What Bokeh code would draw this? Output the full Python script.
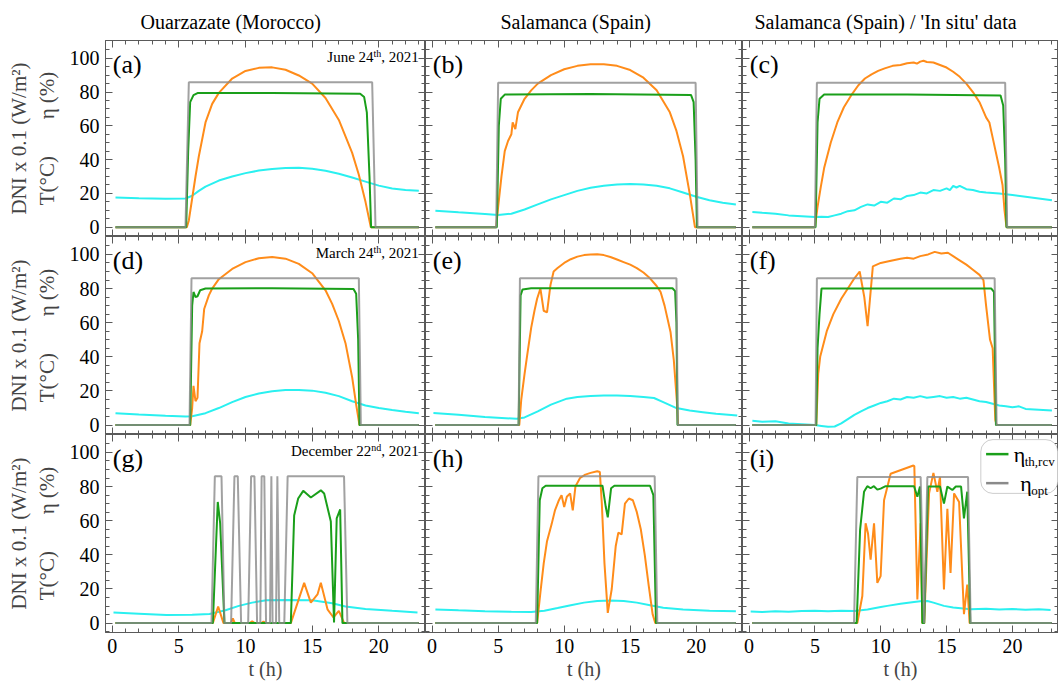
from bokeh.plotting import figure
from bokeh.layouts import column, row
from bokeh.models import LinearAxis, Range1d, Label, BoxAnnotation, FixedTicker, Title
from bokeh.embed import file_html
from bokeh.resources import INLINE

# ---------------- DATA ----------------
# (a) Ouarzazate, June 24th
a_t_dni = [0.25, 5.6, 5.75, 6.0, 6.25, 6.5, 7.0, 7.5, 8.0, 9.0, 10.0, 11.0, 12.0, 13.0, 14.0, 15.0, 16.0, 17.0, 18.0, 18.5, 19.0, 19.4, 23.0]
a_dni = [0, 0, 4, 17, 30, 42, 62, 73, 79.5, 88, 92.5, 94.3, 94.6, 93.2, 89.8, 85, 76.5, 63.5, 44, 31, 15, 0, 0]
a_t_temp = [0.25, 2.0, 4.0, 5.5, 6.0, 6.5, 7.0, 8.0, 9.0, 10.0, 11.0, 12.0, 13.0, 14.0, 15.0, 16.0, 17.0, 18.0, 19.0, 20.0, 21.0, 22.0, 23.0]
a_temp = [17.6, 17.1, 16.9, 17.0, 18.6, 21.5, 24.0, 27.6, 30.0, 32.0, 33.5, 34.5, 35.1, 35.2, 34.6, 33.4, 31.6, 29.4, 27.0, 24.6, 22.9, 22.0, 21.6]
a_t_th = [0.25, 5.55, 5.7, 5.85, 6.1, 6.4, 12.0, 18.6, 18.9, 19.1, 19.3, 19.42, 23.0]
a_th = [0, 0, 45, 74, 78.2, 79.4, 79.4, 79.0, 77.0, 68, 30, 0, 0]
a_t_opt = [0.25, 5.5, 5.75, 19.5, 19.75, 23.0]
a_opt = [0, 0, 85.8, 85.8, 0, 0]

# (b) Salamanca, June 24th (model)
b_t_dni = [0.25, 4.85, 5.0, 5.25, 5.5, 5.75, 6.0, 6.1, 6.3, 6.5, 7.0, 7.5, 8.0, 9.0, 10.0, 11.0, 12.0, 13.0, 14.0, 15.0, 16.0, 17.0, 18.0, 18.5, 19.0, 19.5, 19.9, 23.0]
b_dni = [0, 0, 12, 30, 45, 51, 55, 62, 58, 68, 76, 81, 85, 90, 93.5, 95.5, 96.5, 96.5, 95.5, 93, 88.5, 81, 68, 57, 42, 20, 0, 0]
b_t_temp = [0.25, 2.0, 4.0, 5.0, 6.0, 7.0, 8.0, 9.0, 10.0, 11.0, 12.0, 13.0, 14.0, 15.0, 16.0, 17.0, 18.0, 19.0, 20.0, 21.0, 22.0, 23.0]
b_temp = [9.8, 8.8, 7.8, 7.2, 8.0, 10.5, 13.5, 16.5, 19.0, 21.5, 23.3, 24.5, 25.3, 25.6, 25.3, 24.5, 23.0, 20.5, 18.0, 16.0, 14.5, 13.5]
b_t_th = [0.25, 4.9, 5.05, 5.2, 5.5, 12.0, 19.6, 19.8, 19.95, 20.05, 23.0]
b_th = [0, 0, 60, 76, 78.5, 78.8, 78.3, 74, 40, 0, 0]
b_t_opt = [0.25, 4.85, 5.0, 19.95, 20.1, 23.0]
b_opt = [0, 0, 85.5, 85.5, 0, 0]

# (c) Salamanca, June 24th (in situ)
c_t_dni = [0.25, 5.0, 5.2, 5.45, 5.7, 6.2, 6.7, 7.2, 7.75, 8.3, 8.8, 9.3, 9.8, 10.3, 10.9, 11.5, 12.0, 12.5, 12.75, 13.0, 13.25, 13.5, 14.0, 14.5, 15.0, 15.5, 16.0, 16.5, 17.0, 17.25, 17.5, 18.0, 18.25, 18.5, 19.0, 19.25, 19.4, 19.55, 23.0]
c_dni = [0, 0, 12, 24, 35, 50, 62, 71, 78, 84, 88, 90.5, 92.5, 94, 95.5, 96, 97, 97.5, 96.8, 98, 98.5, 97.8, 97.5, 96, 94.5, 92, 89, 85, 80, 77, 74, 65, 62, 53, 35, 25, 10, 0, 0]
c_t_temp = [0.25, 1.0, 2.0, 3.0, 4.0, 5.0, 5.5, 6.0, 6.5, 7.0, 7.5, 8.0, 8.5, 9.0, 9.5, 10.0, 10.5, 11.0, 11.5, 12.0, 12.5, 13.0, 13.5, 14.0, 14.5, 15.0, 15.25, 15.5, 15.75, 16.0, 16.5, 17.0, 17.5, 18.0, 19.0, 19.5, 20.0, 21.0, 22.0, 23.0]
c_temp = [9.0, 8.5, 8.0, 7.0, 6.5, 6.0, 6.2, 6.0, 7.0, 8.0, 9.5, 10.0, 12.0, 13.5, 12.8, 15.0, 14.5, 17.0, 16.5, 18.5, 19.0, 20.5, 20.0, 22.0, 21.5, 23.0, 22.0, 24.5, 23.5, 24.5, 22.5, 22.0, 21.0, 20.5, 20.0, 19.5, 19.0, 18.0, 17.0, 16.0]
c_t_th = [0.25, 5.05, 5.2, 5.35, 5.7, 12.0, 19.1, 19.3, 19.45, 19.55, 23.0]
c_th = [0, 0, 62, 76, 78.5, 78.5, 78.0, 72, 40, 0, 0]
c_t_opt = [0.25, 5.0, 5.15, 19.45, 19.6, 23.0]
c_opt = [0, 0, 85.5, 85.5, 0, 0]

# (d) Ouarzazate, March 24th
d_t_dni = [0.25, 5.85, 6.0, 6.1, 6.25, 6.4, 6.55, 6.75, 6.9, 7.25, 7.5, 8.0, 9.0, 10.0, 11.0, 12.0, 13.0, 14.0, 15.0, 16.0, 16.5, 17.0, 17.5, 18.0, 18.3, 18.55, 23.0]
d_dni = [0, 0, 10, 23, 14, 16, 48, 55, 68, 76, 80, 85.5, 91.5, 95.5, 97.8, 98.5, 97.5, 94.5, 89, 79, 71, 61, 48, 28, 12, 0, 0]
d_t_temp = [0.25, 2.0, 4.0, 5.5, 6.0, 7.0, 8.0, 9.0, 10.0, 11.0, 12.0, 13.0, 14.0, 15.0, 16.0, 17.0, 18.0, 19.0, 20.0, 21.0, 22.0, 23.0]
d_temp = [7.0, 6.2, 5.5, 5.0, 5.2, 7.0, 10.0, 13.5, 16.5, 18.5, 19.8, 20.5, 20.6, 20.2, 19.0, 17.0, 14.0, 11.5, 10.0, 8.8, 7.8, 7.0]
d_t_th = [0.25, 5.85, 6.0, 6.1, 6.25, 6.4, 6.6, 7.0, 12.0, 18.1, 18.3, 18.45, 18.55, 23.0]
d_th = [0, 0, 70, 78, 75, 75.5, 79, 80, 80.2, 79.8, 77, 50, 0, 0]
d_t_opt = [0.25, 5.8, 5.95, 18.5, 18.65, 23.0]
d_opt = [0, 0, 86, 86, 0, 0]

# (e) Salamanca, March 24th (model)
e_t_dni = [0.25, 6.6, 6.75, 7.0, 7.2, 7.5, 7.75, 7.95, 8.2, 8.45, 8.7, 8.96, 9.2, 9.5, 10.0, 10.5, 11.0, 11.5, 12.0, 12.5, 13.0, 13.5, 14.0, 14.5, 15.0, 15.5, 16.0, 16.5, 17.0, 17.3, 17.6, 18.05, 18.3, 18.55, 18.62, 23.0]
e_dni = [0, 0, 15, 30, 41, 57, 67, 74, 80, 67, 66, 82, 90, 92, 95, 97.2, 98.7, 99.6, 100, 100.1, 99.6, 98.5, 97, 95.5, 94, 92, 89.4, 86, 81.5, 78, 70, 54.6, 38, 12, 0, 0]
e_t_temp = [0.1, 2.0, 4.0, 6.4, 7.0, 8.0, 9.0, 10.2, 11.0, 12.0, 13.0, 14.0, 15.0, 16.0, 16.8, 17.5, 18.5, 19.5, 20.5, 21.5, 23.1]
e_temp = [7.1, 6.0, 4.8, 3.7, 4.5, 8.0, 12.0, 15.5, 16.5, 17.1, 17.4, 17.4, 17.0, 16.4, 15.9, 13.5, 10.0, 8.6, 7.6, 6.6, 5.6]
e_t_th = [0.25, 6.55, 6.7, 6.85, 7.5, 18.2, 18.4, 18.5, 18.58, 23.0]
e_th = [0, 0, 76, 79.5, 80.2, 80.2, 78.5, 60, 0, 0]
e_t_opt = [0.25, 6.55, 6.65, 18.5, 18.6, 23.0]
e_opt = [0, 0, 86, 86, 0, 0]

# (f) Salamanca, March 24th (in situ)
f_t_dni = [0.25, 5.1, 5.25, 5.4, 5.9, 6.4, 7.0, 7.5, 8.0, 8.4, 8.75, 9.0, 9.4, 10.0, 10.6, 11.5, 12.0, 12.5, 13.0, 13.6, 14.1, 14.6, 15.1, 15.9, 16.5, 17.0, 17.5, 17.8, 18.0, 18.3, 18.5, 18.7, 18.8, 23.0]
f_dni = [0, 0, 30, 40, 55, 65, 74, 80, 86, 90, 75, 58, 93, 95, 96, 97.5, 98, 97.5, 99, 100, 101.5, 100.5, 101, 97, 94, 91, 88, 85, 70, 50, 45, 3, 0, 0]
f_t_temp = [0.25, 1.0, 2.0, 3.0, 4.0, 5.0, 5.5, 6.0, 6.5, 7.0, 7.5, 8.0, 8.5, 9.0, 9.5, 10.0, 10.5, 11.0, 11.5, 12.0, 12.5, 13.0, 13.5, 14.0, 14.5, 15.0, 15.5, 16.0, 16.5, 17.0, 17.5, 18.0, 18.5, 19.0, 19.5, 20.0, 20.5, 21.0, 22.0, 23.0]
f_temp = [2.5, 2.0, 2.2, 1.0, 0.5, 0.0, -0.5, -1.0, -0.8, 1.0, 3.5, 6.0, 8.0, 10.0, 11.5, 13.0, 14.0, 15.5, 15.0, 16.5, 16.0, 17.0, 16.0, 16.5, 17.0, 16.0, 16.5, 15.5, 16.0, 15.0, 14.0, 13.5, 12.5, 11.5, 11.0, 10.5, 11.0, 9.5, 9.0, 8.5]
f_t_th = [0.25, 5.1, 5.2, 5.35, 5.5, 18.4, 18.6, 18.75, 23.0]
f_th = [0, 0, 45, 65, 80, 80, 78, 0, 0]
f_t_opt = [0.25, 5.05, 5.15, 18.65, 18.8, 23.0]
f_opt = [0, 0, 86, 86, 0, 0]

# (g) Ouarzazate, December 22nd
g_t_dni = [0.25, 7.55, 7.95, 8.35, 8.9, 9.05, 9.2, 10.3, 10.5, 10.7, 11.2, 11.35, 11.5, 13.4, 14.4, 14.9, 15.4, 15.65, 16.15, 16.6, 17.0, 17.4, 23.0]
g_dni = [0, 0, 9.7, 0, 0, 2.7, 0, 0, 1, 0, 0, 1, 0, 0, 23.6, 12, 16.8, 23.6, 8.1, 3.3, 7.2, 0, 0]
g_t_temp = [0.1, 2.0, 4.07, 6.0, 7.3, 8.5, 9.5, 10.5, 11.55, 13.0, 15.0, 16.5, 17.5, 19.0, 21.0, 22.9]
g_temp = [6.2, 5.5, 4.7, 4.9, 5.3, 7.5, 10.1, 12.0, 13.4, 13.6, 13.4, 11.6, 9.7, 8.3, 7.2, 6.2]
g_t_th = [0.25, 7.55, 7.92, 8.1, 8.42, 13.4, 13.65, 13.95, 14.33, 14.9, 15.65, 15.9, 16.4, 16.64, 16.84, 17.1, 17.27, 23.0]
g_th = [0, 0, 71, 58.5, 0, 0, 63, 73, 77.5, 73.6, 77.8, 75.9, 59.5, 0.4, 61.4, 66.6, 0, 0]
g_t_opt = [0.25, 7.45, 7.7, 8.2, 8.42, 8.92, 9.17, 9.42, 9.67, 10.2, 10.42, 10.67, 10.87, 11.11, 11.21, 11.41, 11.54, 11.84, 11.94, 12.03, 12.29, 12.39, 12.53, 12.91, 13.16, 17.39, 17.64, 23.0]
g_opt = [0, 0, 86, 86, 0, 0, 86, 86, 0, 0, 86, 86, 0, 0, 86, 86, 0, 0, 86, 0, 0, 86, 0, 0, 86, 86, 0, 0]

# (h) Salamanca, December 22nd (model)
h_t_dni = [0.25, 7.95, 8.2, 8.45, 8.7, 9.05, 9.3, 9.6, 9.8, 10.0, 10.2, 10.45, 10.65, 10.85, 11.2, 11.6, 12.0, 12.5, 12.7, 12.85, 13.05, 13.3, 13.6, 13.9, 14.1, 14.35, 14.6, 14.9, 15.2, 15.5, 15.8, 16.1, 16.4, 16.7, 16.9, 23.0]
h_dni = [0, 0, 18, 35, 48, 58, 66, 72, 75, 68, 74, 76, 66, 80, 85, 87, 88, 89, 88.5, 70, 35, 6, 20, 45, 53, 52, 70, 73, 72, 65, 55, 40, 22, 5, 0, 0]
h_t_temp = [0.25, 2.0, 4.0, 6.0, 7.5, 8.5, 9.5, 10.5, 11.5, 12.5, 13.5, 14.5, 15.5, 16.5, 17.5, 19.0, 21.0, 23.0]
h_temp = [8.0, 7.5, 7.0, 6.6, 6.5, 7.2, 8.8, 10.5, 12.0, 13.0, 13.2, 13.0, 12.0, 10.5, 9.0, 8.0, 7.3, 7.0]
h_t_th = [0.25, 7.95, 8.15, 8.35, 8.6, 12.9, 13.15, 13.3, 13.55, 13.8, 16.5, 16.75, 16.95, 23.0]
h_th = [0, 0, 72, 79, 80.5, 80.5, 68, 62, 79, 80.5, 80.5, 75, 0, 0]
h_t_opt = [0.25, 7.85, 8.05, 16.85, 17.05, 23.0]
h_opt = [0, 0, 86, 86, 0, 0]

# (i) Salamanca, December 22nd (in situ)
i_t_dni = [0.25, 8.22, 8.6, 8.85, 9.03, 9.23, 9.49, 9.74, 9.99, 10.25, 10.75, 12.48, 12.55, 12.78, 13.03, 13.16, 13.3, 13.67, 14.0, 14.3, 14.5, 14.8, 15.06, 15.3, 15.57, 15.95, 16.32, 16.57, 16.75, 23.0]
i_dni = [0, 0, 15.9, 58.5, 52.7, 37.2, 58.5, 23.6, 27.5, 72, 87.5, 92.3, 92, 13.9, 58.5, 0, 0, 76, 88, 76.9, 85.6, 19.7, 67, 29.4, 76, 71, 5.2, 22.6, 0, 0]
i_t_temp = [0.12, 1.0, 2.0, 3.0, 4.0, 5.0, 6.0, 7.0, 8.0, 9.0, 10.0, 10.5, 11.5, 12.53, 13.0, 13.54, 14.0, 14.8, 15.5, 16.83, 18.0, 19.0, 20.0, 21.0, 22.0, 22.9]
i_temp = [6.8, 6.5, 7.0, 6.6, 7.1, 7.3, 7.0, 7.3, 7.1, 8.0, 9.4, 10.1, 11.3, 12.4, 12.8, 13.0, 12.0, 10.1, 9.2, 8.1, 8.4, 8.0, 8.3, 7.9, 8.1, 7.7]
i_t_th = [0.25, 8.17, 8.43, 8.73, 8.98, 9.23, 9.48, 9.74, 9.99, 10.37, 12.53, 12.78, 12.98, 13.16, 13.3, 13.59, 14.0, 14.5, 14.8, 15.06, 15.44, 15.7, 16.1, 16.32, 16.57, 16.8, 23.0]
i_th = [0, 0, 54.6, 76.9, 80.2, 79, 80.2, 78.2, 78.8, 80.2, 80.2, 74, 80, 0, 0, 80, 80, 80, 70, 80, 78, 80, 80, 61.4, 77, 0, 0]
i_t_opt = [0.25, 7.97, 8.22, 13.03, 13.29, 13.54, 16.63, 16.83, 23.0]
i_opt = [0, 0, 85.6, 85.6, 0, 85.6, 85.6, 0, 0]

col_titles = ["Ouarzazate (Morocco)", "Salamanca (Spain)", "Salamanca (Spain) / 'In situ' data"]
panel_letters = ["(a)", "(b)", "(c)", "(d)", "(e)", "(f)", "(g)", "(h)", "(i)"]
dates = {0: ("June 24", "th", ", 2021"), 3: ("March 24", "th", ", 2021"), 6: ("December 22", "nd", ", 2021")}
x_major = [0, 5, 10, 15, 20]
x_minor = [h for h in range(0, 24) if h % 5 != 0]
y_major = [0, 20, 40, 60, 80, 100]
y_minor = [-5, 5, 10, 15, 25, 30, 35, 45, 50, 55, 65, 70, 75, 85, 90, 95, 105]
legend_labels = [("th,rcv", "green"), ("opt", "gray")]

panels = [
    (a_t_dni, a_dni, a_t_temp, a_temp, a_t_th, a_th, a_t_opt, a_opt),
    (b_t_dni, b_dni, b_t_temp, b_temp, b_t_th, b_th, b_t_opt, b_opt),
    (c_t_dni, c_dni, c_t_temp, c_temp, c_t_th, c_th, c_t_opt, c_opt),
    (d_t_dni, d_dni, d_t_temp, d_temp, d_t_th, d_th, d_t_opt, d_opt),
    (e_t_dni, e_dni, e_t_temp, e_temp, e_t_th, e_th, e_t_opt, e_opt),
    (f_t_dni, f_dni, f_t_temp, f_temp, f_t_th, f_th, f_t_opt, f_opt),
    (g_t_dni, g_dni, g_t_temp, g_temp, g_t_th, g_th, g_t_opt, g_opt),
    (h_t_dni, h_dni, h_t_temp, h_temp, h_t_th, h_th, h_t_opt, h_opt),
    (i_t_dni, i_dni, i_t_temp, i_temp, i_t_th, i_th, i_t_opt, i_opt),
]

# ---------------- STYLE / LAYOUT ----------------
FONT = "Liberation Serif"
ORANGE = "#FF8C1A"
CYAN = "#2AF0F0"
GREEN = "#1A9F1A"
GRAY = "#8A8A8A"
FRAME = "#5A5A5A"
COLORS = {"green": GREEN, "gray": GRAY}
XR = (-0.5, 23.5)
YR = (-5.5, 110.5)
COL_W = [320, 317, 316]
ROW_H = 198
LEFT, TOP, BOTTOM = 105, 38, 50
TITLE_LEFT = [35, 75, 12]
NB = "\u00a0"

TW = {' ': .25, ',': .25, '0': .5, '1': .5, '2': .5, '3': .5, '4': .5, '5': .5, '6': .5, '7': .5,
      '8': .5, '9': .5, 't': .278, 'h': .5, 'n': .5, 'd': .5, 'e': .444, 'u': .5, 'J': .389,
      'M': .889, 'a': .444, 'r': .333, 'c': .444, 'D': .722, 'm': .778, 'b': .5}


def tw(s, size):
    return sum(TW.get(ch, 0.5) for ch in s) * size


def style_axis(ax, labels):
    ax.axis_line_color = FRAME
    ax.major_tick_line_color = FRAME
    ax.minor_tick_line_color = FRAME
    ax.major_tick_in = 7
    ax.major_tick_out = 0
    ax.minor_tick_in = 4
    ax.minor_tick_out = 0
    if labels:
        ax.major_label_text_font = FONT
        ax.major_label_text_font_size = "20px"
        ax.major_label_text_color = "black"
        ax.major_label_standoff = 6
    else:
        ax.major_label_text_font_size = "0px"
        ax.major_label_standoff = 0


def make_panel(k):
    r, c = divmod(k, 3)
    w = COL_W[c] + (LEFT if c == 0 else 0)
    h = ROW_H + (TOP if r == 0 else 0) + (BOTTOM if r == 2 else 0)
    p = figure(width=w, height=h, x_range=Range1d(*XR), y_range=Range1d(*YR),
               output_backend="svg", toolbar_location=None,
               x_axis_location=None, y_axis_location=None,
               min_border_left=LEFT if c == 0 else 0, min_border_right=0,
               min_border_top=TOP if r == 0 else 0, min_border_bottom=BOTTOM if r == 2 else 0)
    p.outline_line_color = FRAME
    p.background_fill_color = "white"
    p.border_fill_color = "white"
    p.xgrid.visible = False
    p.ygrid.visible = False

    xt = FixedTicker(ticks=x_major, minor_ticks=x_minor)
    yt = FixedTicker(ticks=y_major, minor_ticks=y_minor)

    left = LinearAxis(ticker=yt)
    style_axis(left, c == 0)
    if c == 0:
        left.axis_label = "T(°C)" + NB * 7 + "η" + NB + "(%)"
        left.axis_label_text_font = FONT
        left.axis_label_text_font_size = "21px"
        left.axis_label_text_font_style = "normal"
        left.axis_label_standoff = 8
    p.add_layout(left, "left")
    if c == 0:
        extra = LinearAxis(ticker=FixedTicker(ticks=[]), axis_line_color=None,
                           major_tick_line_color=None, minor_tick_line_color=None,
                           major_label_text_font_size="0px", major_label_standoff=0,
                           axis_label="DNI x 0.1 (W/m²)", axis_label_text_font=FONT,
                           axis_label_text_font_size="21px", axis_label_text_font_style="normal",
                           axis_label_standoff=1)
        p.add_layout(extra, "left")

    below = LinearAxis(ticker=xt)
    style_axis(below, r == 2)
    if r == 2:
        below.axis_label = "t (h)"
        below.axis_label_text_font = FONT
        below.axis_label_text_font_size = "20px"
        below.axis_label_text_font_style = "normal"
        below.axis_label_standoff = 2
    p.add_layout(below, "below")

    right = LinearAxis(ticker=yt)
    style_axis(right, False)
    p.add_layout(right, "right")
    above = LinearAxis(ticker=xt)
    style_axis(above, False)
    p.add_layout(above, "above")

    if r == 0:
        p.add_layout(Title(text=col_titles[c], align="left", text_font=FONT,
                           text_font_size="20px", text_font_style="normal",
                           text_color="black", standoff=16, offset=TITLE_LEFT[c]), "above")

    t_dni, dni, t_temp, temp, t_th, th, t_opt, opt = panels[k]
    p.line(t_temp, temp, line_color=CYAN, line_width=2)
    p.line(t_dni, dni, line_color=ORANGE, line_width=2)
    p.line(t_th, th, line_color=GREEN, line_width=2)
    p.line(t_opt, opt, line_color=GRAY, line_width=2, line_alpha=0.8)

    p.add_layout(Label(x=0.05, y=96.5, text=panel_letters[k], text_font=FONT,
                       text_font_size="26px", text_baseline="middle", text_color="black"))

    if k in dates:
        base, sup, tail = dates[k]
        fs = 15
        xr, yb = 23.0, 96.0
        tail_w = tw(tail, fs)
        sup_w = tw(sup, 10)
        p.add_layout(Label(x=xr, y=yb, text=tail, text_align="right", text_font=FONT,
                           text_font_size=f"{fs}px", text_color="black"))
        p.add_layout(Label(x=xr, y=yb, x_offset=-tail_w, y_offset=6, text=sup, text_align="right",
                           text_font=FONT, text_font_size="10px", text_color="black"))
        p.add_layout(Label(x=xr, y=yb, x_offset=-(tail_w + sup_w), text=base, text_align="right",
                           text_font=FONT, text_font_size=f"{fs}px", text_color="black"))

    if k == 8:
        box = BoxAnnotation(left=17.6, right=23.45, bottom=76.0, top=107.5, fill_color="white",
                            fill_alpha=1.0, line_color=FRAME, line_width=1, border_radius=12)
        p.add_layout(box)
        ys = [99.0, 82.0]
        for (sub, cname), yy in zip(legend_labels, ys):
            rr = p.line([18.0, 19.7], [yy, yy], line_color=COLORS[cname], line_width=2.5)
            rr.level = "overlay"
            xt0 = 20.1 if cname == "green" else 20.6
            p.add_layout(Label(x=xt0, y=yy, text="η", text_font=FONT, text_font_size="22px",
                               text_baseline="middle", text_color="black"))
            p.add_layout(Label(x=xt0, y=yy, x_offset=11, y_offset=-7, text=sub, text_font=FONT,
                               text_font_size="13px", text_baseline="middle", text_color="black"))
    return p


figs = [make_panel(k) for k in range(9)]
layout = column(row(*figs[0:3]), row(*figs[3:6]), row(*figs[6:9]))
open("out.html", "w").write(file_html(layout, INLINE))
